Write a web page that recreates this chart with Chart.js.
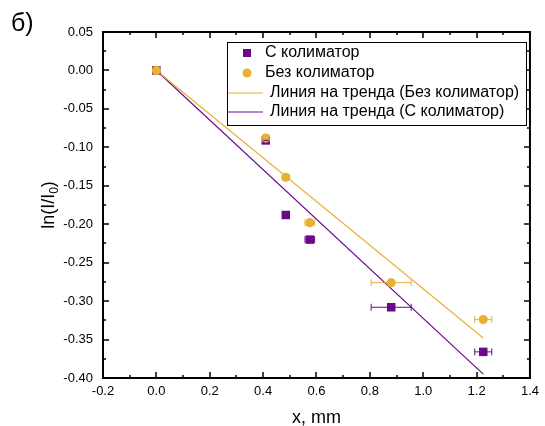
<!DOCTYPE html>
<html>
<head>
<meta charset="utf-8">
<script src="https://cdn.jsdelivr.net/npm/chart.js@4"></script>
<style>
  body { margin: 0; background: #fff; }
  canvas { display: block; }
</style>
</head>
<body>
<canvas id="chart" width="545" height="426"></canvas>
<script>
// Données
const xValues = [0, 0.41, 0.485, 0.575, 0.88, 1.225];
const withCollimator = [0, -0.091, -0.188, -0.220, -0.308, -0.366];
const withoutCollimator = [0, -0.088, -0.139, -0.198, -0.276, -0.324];
const xErrors = [0, 0.012, 0.012, 0.018, 0.075, 0.032];

// Lignes de tendance (extrémités)
const trendX = [0, 1.225];
const trendWithout = [0, -0.348];
const trendWith = [0, -0.395];

const legendLabels = ['С колиматор', 'Без колиматор', 'Линия на тренда (Без колиматор)', 'Линия на тренда (С колиматор)'];

const purple = '#6a0a8a';
const orange = '#e8b034';
const FONT = '"Liberation Sans", Arial, sans-serif';

const toPoints = (xs, ys) => xs.map((x, i) => ({ x: x, y: ys[i] }));
const fmt = (v, d) => (Math.abs(v) < 1e-9 ? 0 : Number(v)).toFixed(d);

// Barres d'erreur horizontales
const errorBars = {
    id: 'errorBars',
    afterDatasetsDraw(chart) {
        const ctx = chart.ctx;
        const xs = chart.scales.x, ys = chart.scales.y;
        [[withCollimator, purple], [withoutCollimator, orange]].forEach(([vals, col]) => {
            ctx.save();
            ctx.strokeStyle = col;
            ctx.lineWidth = 1;
            xValues.forEach((x, i) => {
                if (!xErrors[i]) return;
                const x1 = xs.getPixelForValue(x - xErrors[i]);
                const x2 = xs.getPixelForValue(x + xErrors[i]);
                const y = ys.getPixelForValue(vals[i]);
                ctx.beginPath();
                ctx.moveTo(x1, y); ctx.lineTo(x2, y);
                ctx.moveTo(x1, y - 3.5); ctx.lineTo(x1, y + 3.5);
                ctx.moveTo(x2, y - 3.5); ctx.lineTo(x2, y + 3.5);
                ctx.stroke();
            });
            ctx.restore();
        });
    }
};

// Cadre, graduations internes, titres et légende
const decorations = {
    id: 'decorations',
    afterDraw(chart) {
        const ctx = chart.ctx;
        const a = chart.chartArea;
        const xs = chart.scales.x, ys = chart.scales.y;
        ctx.save();
        ctx.strokeStyle = '#000';
        ctx.lineWidth = 2;
        ctx.strokeRect(a.left, a.top, a.right - a.left, a.bottom - a.top);

        ctx.lineWidth = 1.5;
        ctx.beginPath();
        for (let v = -0.2; v <= 1.4001; v += 0.1) {
            const px = Math.round(xs.getPixelForValue(v));
            const major = Math.round(v * 10) % 2 === 0;
            const len = major ? 6 : 3;
            if (px <= a.left + 1 || px >= a.right - 1) continue;
            ctx.moveTo(px, a.bottom); ctx.lineTo(px, a.bottom - len);
            ctx.moveTo(px, a.top); ctx.lineTo(px, a.top + len);
        }
        for (let v = -0.4; v <= 0.0501; v += 0.025) {
            const py = Math.round(ys.getPixelForValue(v));
            const major = Math.round(v * 40) % 2 === 0;
            const len = major ? 6 : 3;
            if (py <= a.top + 1 || py >= a.bottom - 1) continue;
            ctx.moveTo(a.left, py); ctx.lineTo(a.left + len, py);
            ctx.moveTo(a.right, py); ctx.lineTo(a.right - len, py);
        }
        ctx.stroke();

        // Titre "б)"
        ctx.fillStyle = '#000';
        ctx.font = '25px ' + FONT;
        ctx.textAlign = 'left';
        ctx.textBaseline = 'alphabetic';
        ctx.fillText('б)', 11, 31);

        // Titre axe x
        ctx.font = '18px ' + FONT;
        ctx.textAlign = 'center';
        ctx.fillText('x, mm', (a.left + a.right) / 2, 423);

        // Titre axe y avec indice
        ctx.save();
        ctx.translate(54, (a.top + a.bottom) / 2);
        ctx.rotate(-Math.PI / 2);
        const main = 'ln(I/I';
        const sub = '0';
        const tail = ')';
        ctx.font = '18px ' + FONT;
        const wMain = ctx.measureText(main).width;
        const wTail = ctx.measureText(tail).width;
        ctx.font = '12px ' + FONT;
        const wSub = ctx.measureText(sub).width;
        let x0 = -(wMain + wSub + wTail) / 2;
        ctx.textAlign = 'left';
        ctx.font = '18px ' + FONT;
        ctx.fillText(main, x0, 0);
        ctx.font = '12px ' + FONT;
        ctx.fillText(sub, x0 + wMain, 4);
        ctx.font = '18px ' + FONT;
        ctx.fillText(tail, x0 + wMain + wSub, 0);
        ctx.restore();

        // Légende
        const lx = 227, ly = 42, lw = 299, lh = 83;
        ctx.fillStyle = '#fff';
        ctx.fillRect(lx, ly, lw, lh);
        ctx.lineWidth = 1;
        ctx.strokeStyle = '#000';
        ctx.strokeRect(lx + 0.5, ly + 0.5, lw, lh);
        const rows = [53, 73, 93, 112];
        ctx.font = '16px ' + FONT;
        ctx.textAlign = 'left';
        ctx.textBaseline = 'middle';
        ctx.fillStyle = purple;
        ctx.fillRect(243, rows[0] - 4, 8, 8);
        ctx.fillStyle = orange;
        ctx.beginPath();
        ctx.arc(247, rows[1], 4.5, 0, Math.PI * 2);
        ctx.fill();
        ctx.lineWidth = 1.2;
        ctx.strokeStyle = orange;
        ctx.beginPath(); ctx.moveTo(228, rows[2]); ctx.lineTo(263, rows[2]); ctx.stroke();
        ctx.strokeStyle = purple;
        ctx.beginPath(); ctx.moveTo(228, rows[3]); ctx.lineTo(263, rows[3]); ctx.stroke();
        ctx.fillStyle = '#000';
        ctx.fillText(legendLabels[0], 265, rows[0]);
        ctx.fillText(legendLabels[1], 265, rows[1]);
        ctx.fillText(legendLabels[2], 270, rows[2]);
        ctx.fillText(legendLabels[3], 270, rows[3]);
        ctx.restore();
    }
};

new Chart(document.getElementById('chart'), {
    type: 'scatter',
    data: {
        datasets: [
            {
                label: legendLabels[1],
                data: toPoints(xValues, withoutCollimator),
                pointStyle: 'circle',
                pointRadius: 4.6,
                backgroundColor: orange,
                borderColor: orange,
                borderWidth: 0
            },
            {
                label: legendLabels[0],
                data: toPoints(xValues, withCollimator),
                pointStyle: 'rect',
                pointRadius: 6,
                backgroundColor: purple,
                borderColor: purple,
                borderWidth: 0
            },
            {
                label: legendLabels[2],
                type: 'line',
                data: toPoints(trendX, trendWithout),
                showLine: true,
                pointRadius: 0,
                borderColor: orange,
                borderWidth: 1.2
            },
            {
                label: legendLabels[3],
                type: 'line',
                data: toPoints(trendX, trendWith),
                showLine: true,
                pointRadius: 0,
                borderColor: purple,
                borderWidth: 1.2
            }
        ]
    },
    options: {
        responsive: false,
        animation: false,
        layout: { padding: { left: 0, top: 32, right: 12, bottom: 0 } },
        plugins: {
            legend: { display: false },
            tooltip: { enabled: false }
        },
        scales: {
            x: {
                type: 'linear',
                min: -0.2,
                max: 1.4,
                afterFit: (scale) => { scale.height = 48; },
                grid: { display: false, drawTicks: false },
                border: { display: false },
                ticks: {
                    stepSize: 0.2,
                    padding: 6,
                    color: '#000',
                    font: { family: FONT, size: 13 },
                    callback: (v) => fmt(v, 1)
                }
            },
            y: {
                type: 'linear',
                min: -0.4,
                max: 0.05,
                afterFit: (scale) => { scale.width = 103; },
                grid: { display: false, drawTicks: false },
                border: { display: false },
                ticks: {
                    stepSize: 0.05,
                    padding: 10,
                    color: '#000',
                    font: { family: FONT, size: 13 },
                    callback: (v) => fmt(v, 2)
                }
            }
        }
    },
    plugins: [errorBars, decorations]
});
</script>
</body>
</html>
